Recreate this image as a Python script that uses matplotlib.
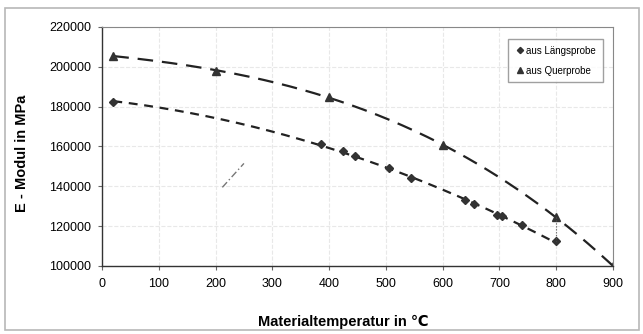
import numpy as np
import matplotlib
matplotlib.use('Agg')
import matplotlib.pyplot as plt
from matplotlib.patches import Rectangle

plt.rcParams['font.family'] = ['Liberation Sans', 'DejaVu Sans']

# Längsprobe (diamonds)
laengs_t = [20, 385, 425, 445, 505, 545, 640, 655, 695, 705, 740, 800]
laengs_e = [182500, 161500, 157500, 155000, 149000, 144000, 133000, 131000, 125500, 125000, 120500, 112500]

# Querprobe (triangles)
quer_t = [20, 200, 400, 600, 800, 900]
quer_e = [205500, 198000, 185000, 160500, 124500, 100000]

x_ticks = [0, 100, 200, 300, 400, 500, 600, 700, 800, 900]
y_ticks = [100000, 120000, 140000, 160000, 180000, 200000, 220000]

# stray marks in the scan
stray_x = [212, 250]
stray_y = [139500, 151500]

fig = plt.figure(figsize=(6.43, 3.34), dpi=100)
fig.patches.append(Rectangle((0.008, 0.012), 0.986, 0.963, transform=fig.transFigure,
                             fill=False, edgecolor='#b8b8b8', linewidth=1.2))
ax = fig.add_axes([0.1586, 0.2036, 0.7947, 0.7156])

# trendlines (polynomial fits like in Excel)
c1 = np.polyfit(laengs_t, laengs_e, 2)
t1 = np.linspace(min(laengs_t), max(laengs_t), 200)
ax.plot(t1, np.polyval(c1, t1), color='#222222', lw=1.6, dashes=(4, 3))

c2 = np.polyfit(quer_t, quer_e, 3)
t2 = np.linspace(min(quer_t), max(quer_t), 200)
ax.plot(t2, np.polyval(c2, t2), color='#222222', lw=1.6, dashes=(7, 4))

ax.plot(laengs_t, laengs_e, 'D', color='#333333', ms=4.5, label='aus Längsprobe', linestyle='none')
ax.plot(quer_t, quer_e, '^', color='#333333', ms=6, label='aus Querprobe', linestyle='none')

ax.plot([800, 800], [quer_e[4], laengs_e[-1]], color='#555555', lw=0.8, linestyle=':')
ax.plot(stray_x, stray_y, color='#777777', lw=1.0, dashes=(5, 2, 1, 2))

ax.set_xlim(0, 900)
ax.set_ylim(100000, 220000)
ax.set_xticks(x_ticks)
ax.set_yticks(y_ticks)
ax.tick_params(labelsize=9, length=3, width=0.8, color='#666666')
ax.tick_params(axis='x', pad=6)
ax.tick_params(axis='y', pad=5)
ax.grid(True, color='#e8e8e8', linestyle='--', linewidth=0.8)

for s in ['left', 'bottom']:
    ax.spines[s].set_color('#333333')
    ax.spines[s].set_linewidth(1.0)
for s in ['top', 'right']:
    ax.spines[s].set_color('#888888')
    ax.spines[s].set_linewidth(0.8)

ax.set_xlabel('Materialtemperatur in ℃', fontsize=10.5, fontweight='bold')
ax.set_ylabel('E - Modul in MPa', fontsize=10.5, fontweight='bold')
ax.xaxis.set_label_coords(0.472, -0.205)
ax.yaxis.set_label_coords(-0.143, 0.47)

leg = ax.legend(loc='upper right', fontsize=7, frameon=True, fancybox=False,
                edgecolor='#888888', handletextpad=0.2, handlelength=1.0,
                borderpad=0.7, labelspacing=1.0, markerscale=0.7,
                bbox_to_anchor=(0.99, 0.97))

fig.savefig('out.png', dpi=100)
